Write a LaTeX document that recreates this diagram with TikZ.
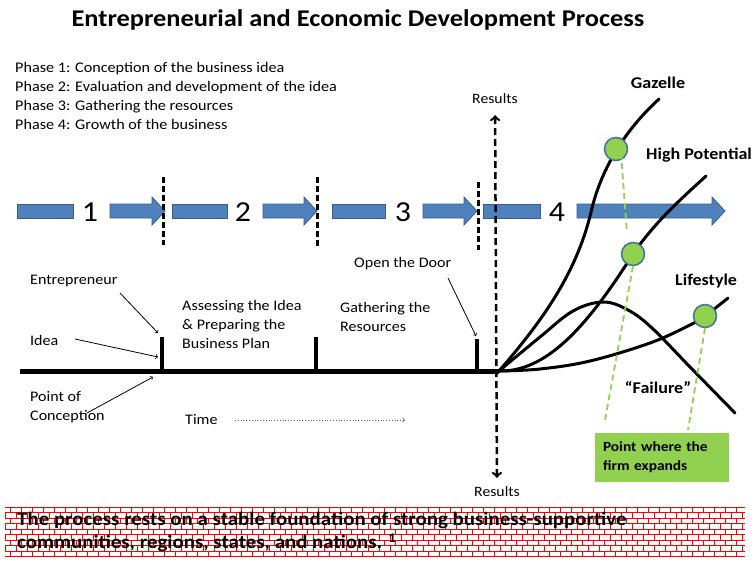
\documentclass[tikz,border=0pt]{standalone}
\usepackage{fontspec}
\setmainfont{Carlito}[FakeStretch=1.1]
\usetikzlibrary{arrows}

\definecolor{phaseblue}{RGB}{79,129,189}
\definecolor{phaseedge}{RGB}{56,93,138}
\definecolor{expgreen}{RGB}{146,208,80}
\definecolor{dotedge}{RGB}{65,113,156}

% blue band pieces: plain bar and bar with a head
\newcommand{\phasebar}[2]{\filldraw[bar] (#1,204) rectangle (#2,218);}
\newcommand{\phasearrow}[2]{\filldraw[bar] (#1,204) -- ({#2-13},204) -- ({#2-13},197) -- (#2,211)
  -- ({#2-13},225) -- ({#2-13},218) -- (#1,218) -- cycle;}

\begin{document}
\begin{tikzpicture}[x=1pt,y=-1pt,>=to,
  txt/.style={font=\fontsize{14.6}{17}\selectfont,inner sep=0pt,align=left},
  kind/.style={font=\fontsize{16.4}{19}\selectfont\bfseries,inner sep=0pt},
  num/.style={font=\fontsize{29}{32}\selectfont,inner sep=0pt},
  bar/.style={fill=phaseblue,draw=phaseedge,line width=0.8pt},
  sep/.style={line width=3pt,dash pattern=on 6pt off 3pt},
  pointer/.style={->,line width=0.8pt},
  growth/.style={line width=3pt,line cap=round},
  dot/.style={circle,fill=expgreen,draw=dotedge,line width=1.5pt,minimum size=23pt,inner sep=0pt},
  guide/.style={draw=expgreen,line width=1.8pt,dash pattern=on 6pt off 4pt},
  brick/.style={draw=red,line width=0.7pt}]
\useasboundingbox (0,0) rectangle (754,560);

% heading and phase list
\node[font=\fontsize{24}{28}\selectfont\bfseries] (title) at (358,20) {Entrepreneurial and Economic Development Process};
\node[txt,anchor=north west,font=\fontsize{14.7}{19}\selectfont] (phases) at (15,62)
  {Phase 1: Conception of the business idea\\
   Phase 2: Evaluation and development of the idea\\
   Phase 3: Gathering the resources\\
   Phase 4: Growth of the business};

% phase band
\phasebar{17}{73}
\phasearrow{110}{165}
\phasebar{172}{227}
\phasearrow{263}{317}
\phasebar{332}{385}
\phasearrow{423}{477}
\phasebar{483}{540}
\phasearrow{577}{725}
\node[num] (n1) at (90,212) {1};
\node[num] (n2) at (243,212) {2};
\node[num] (n3) at (403,212) {3};
\node[num] (n4) at (557,212) {4};
\draw[sep] (163,177) -- (163,245);
\draw[sep] (317,177) -- (317,247);
\draw[sep] (478,182) -- (478,250);

% results axis
\node[txt,font=\fontsize{14.3}{16}\selectfont] (rtop) at (495,99) {Results};
\node[txt,font=\fontsize{14.3}{16}\selectfont] (rbot) at (497,492) {Results};
\draw[<->,line width=2.5pt,dash pattern=on 7pt off 4pt,shorten <=9pt,shorten >=11pt] (rbot.north) -- (rtop.south);

% time line with its milestones
\coordinate (start) at (20,371);
\coordinate (O) at (499,371);
\coordinate (t1) at (162,337);
\coordinate (t2) at (316,337);
\coordinate (t3) at (477,339);
\draw[line width=5pt] (start) -- (O);
\draw[line width=4pt] (t1) -- (t1 |- O);
\draw[line width=4pt] (t2) -- (t2 |- O);
\draw[line width=4pt] (t3) -- (t3 |- O);

\node[txt,anchor=west] (entr) at (30,281) {Entrepreneur};
\node[txt,anchor=west] (idea) at (30,340) {Idea};
\node[txt,anchor=north west,font=\fontsize{14.6}{19}\selectfont] (conc) at (30,391) {Point of\\Conception};
\node[txt,anchor=north west,font=\fontsize{14.6}{19}\selectfont] (assess) at (182,300) {Assessing the Idea\\\& Preparing the\\Business Plan};
\node[txt,anchor=north west,font=\fontsize{14.6}{19}\selectfont] (gather) at (340,302) {Gathering the\\Resources};
\node[txt,anchor=west] (door) at (354,264) {Open the Door};
\node[txt,anchor=west] (time) at (185,420) {Time};

\coordinate (c1) at (87,413);
\draw[pointer] (120,293) -- (158,333);
\draw[pointer] (75,339) -- (158,357);
\draw[pointer] (c1) -- (153,377);
\draw[pointer] (448,278) -- (476,336);
\coordinate (tend) at (405,420);
\draw[->,line width=0.8pt,dotted,gray!80!black] (235,420) -- (tend);

% growth paths after the door opens
\draw[growth] (O) .. controls (545,318) and (578,270) .. (592,208) .. controls (602,168) and (625,130) .. (659,99);
\draw[growth] (O) .. controls (545,372) and (585,330) .. (633,254) .. controls (655,222) and (680,200) .. (706,176);
\draw[growth] plot[smooth,tension=0.6] coordinates {(O) (540,337) (573,311) (603,302) (628,310) (652,328) (690,367) (735,413)};
\draw[growth] plot[smooth,tension=0.6] coordinates {(O) (540,369) (590,361) (650,343) (690,325) (705,316) (728,298)};

\node[dot] (gz) at (616,149) {};
\node[dot] (hp) at (633,254) {};
\node[dot] (ls) at (705,316) {};

\node[kind] (gzl) at (658,83) {Gazelle};
\node[kind,anchor=west] (hpl) at (646,155) {High Potential};
\node[kind,anchor=west] (lsl) at (675,281) {Lifestyle};
\node[kind] (fail) at (658,387) {``Failure''};

\node[fill=expgreen,minimum width=134pt,minimum height=49pt,text width=118pt,align=left,
  font=\fontsize{14}{19}\selectfont\bfseries,inner sep=0pt] (expand) at (662,457) {Point where the\\firm expands};

\coordinate (g1) at (627,233);
\coordinate (g2) at (605,420);
\coordinate (g3) at (688,430);
\draw[guide] ([xshift=5pt,yshift=8pt]gz.south) -- (g1);
\draw[guide] (hp.south) -- (g2);
\draw[guide] (ls.south) -- (g3);

% brick foundation
\begin{scope}
\clip (5,507) rectangle (745,560);
\foreach \r in {0,...,9} {
  \draw[brick] (5,{507+5.5*\r}) -- (745,{507+5.5*\r});
  \foreach \c in {0,...,68}
    \draw[brick] ({5+11*\c+5.5*mod(\r,2)},{507+5.5*\r}) -- ++(0,-5.5);
}
\end{scope}
\node[txt,anchor=north west,font=\fontsize{19}{23}\selectfont\bfseries] (base) at (17,512)
  {The process rests on a stable foundation of strong business-supportive\\communities, regions, states, and nations. \textsuperscript{1}};
\end{tikzpicture}
\end{document}
